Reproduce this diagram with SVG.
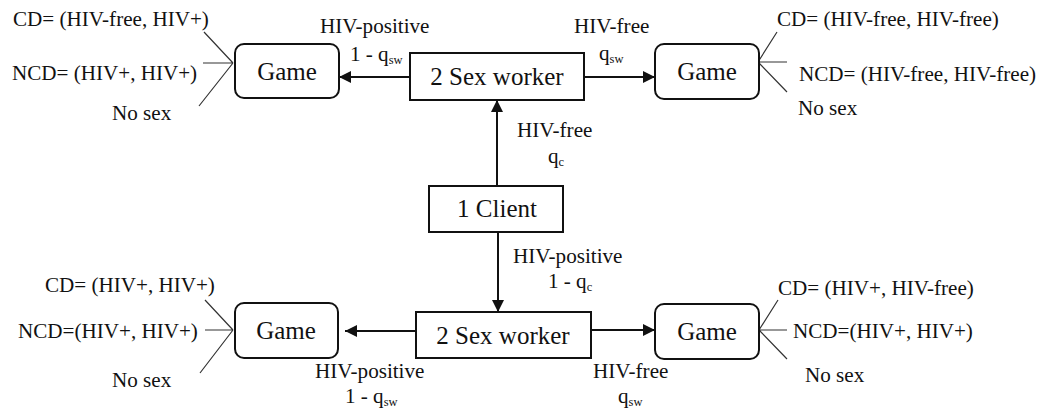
<svg xmlns="http://www.w3.org/2000/svg" width="1049" height="411" viewBox="0 0 1049 411">
<defs>
<style>
.box{fill:#fff;stroke:#111;stroke-width:2}
.node{font-family:"Liberation Serif","Times New Roman",serif;font-size:25px;fill:#111;text-anchor:middle}
.lbl{font-family:"Liberation Serif","Times New Roman",serif;font-size:22px;fill:#111;transform-box:fill-box;transform-origin:0 0;transform:scaleX(0.96)}
.sub{font-size:13px}
.arr{stroke:#111;stroke-width:2;fill:none;marker-end:url(#ah)}
.fan{stroke:#333;stroke-width:1.2;fill:none}
</style>
<marker id="ah" markerUnits="userSpaceOnUse" markerWidth="13" markerHeight="13" refX="12" refY="6" orient="auto">
<path d="M0,0 L12,6 L0,12 z" fill="#111"/>
</marker>
</defs>
<rect width="1049" height="411" fill="#fff"/>

<g id="connectors">
<line class="arr" x1="410" y1="77" x2="339" y2="77"/>
<line class="arr" x1="584" y1="77" x2="655" y2="77"/>
<line class="arr" x1="497" y1="186" x2="497" y2="100"/>
<line class="arr" x1="498" y1="232" x2="498" y2="312"/>
<line class="arr" x1="416" y1="331" x2="345" y2="331"/>
<line class="arr" x1="591" y1="330" x2="655" y2="330"/>
<path class="fan" d="M204,32 L233,63 M203,63 L233,63 M199,106 L233,63"/>
<path class="fan" d="M777,32 L758,62 M787,62 L758,62 M787,92 L758,62"/>
<path class="fan" d="M205,300 L233,330 M205,330 L233,330 M200,373 L233,330"/>
<path class="fan" d="M778,300 L759,330 M787,330 L759,330 M787,359 L759,330"/>
</g>

<g id="labels">
<text class="lbl" x="13" y="26">CD= (HIV-free, HIV+)</text>
<text class="lbl" x="12" y="80">NCD= (HIV+, HIV+)</text>
<text class="lbl" x="112" y="120">No sex</text>
<text class="lbl" x="320" y="33">HIV-positive</text>
<text class="lbl" x="350" y="61">1 - q<tspan class="sub" dy="3">sw</tspan></text>
<text class="lbl" x="574" y="33">HIV-free</text>
<text class="lbl" x="599" y="60">q<tspan class="sub" dy="3">sw</tspan></text>
<text class="lbl" x="777" y="26">CD= (HIV-free, HIV-free)</text>
<text class="lbl" x="799" y="81">NCD= (HIV-free, HIV-free)</text>
<text class="lbl" x="798" y="115">No sex</text>
<text class="lbl" x="517" y="137">HIV-free</text>
<text class="lbl" x="548" y="163">q<tspan class="sub" dy="3">c</tspan></text>
<text class="lbl" x="513" y="263">HIV-positive</text>
<text class="lbl" x="548" y="288">1 - q<tspan class="sub" dy="3">c</tspan></text>
<text class="lbl" x="45" y="292">CD= (HIV+, HIV+)</text>
<text class="lbl" x="18" y="338">NCD=(HIV+, HIV+)</text>
<text class="lbl" x="112" y="387">No sex</text>
<text class="lbl" x="315" y="378">HIV-positive</text>
<text class="lbl" x="345" y="403">1 - q<tspan class="sub" dy="3">sw</tspan></text>
<text class="lbl" x="593" y="378">HIV-free</text>
<text class="lbl" x="618" y="403">q<tspan class="sub" dy="3">sw</tspan></text>
<text class="lbl" x="778" y="295">CD= (HIV+, HIV-free)</text>
<text class="lbl" x="793" y="338">NCD=(HIV+, HIV+)</text>
<text class="lbl" x="805" y="382">No sex</text>
</g>

<g id="game-tl"><rect class="box" x="235" y="44" width="104" height="54" rx="9"/><text class="node" x="287" y="80">Game</text></g>
<g id="sexworker-top"><rect class="box" x="410" y="53" width="174" height="47"/><text class="node" x="497" y="85">2 Sex worker</text></g>
<g id="game-tr"><rect class="box" x="655" y="44" width="104" height="55" rx="9"/><text class="node" x="707" y="80">Game</text></g>
<g id="client"><rect class="box" x="429" y="186" width="134" height="46"/><text class="node" x="497" y="217">1 Client</text></g>
<g id="sexworker-bottom"><rect class="box" x="416" y="312" width="175" height="46"/><text class="node" x="503" y="344">2 Sex worker</text></g>
<g id="game-bl"><rect class="box" x="235" y="303" width="103" height="55" rx="9"/><text class="node" x="286" y="339">Game</text></g>
<g id="game-br"><rect class="box" x="655" y="304" width="104" height="55" rx="9"/><text class="node" x="707" y="340">Game</text></g>
</svg>
